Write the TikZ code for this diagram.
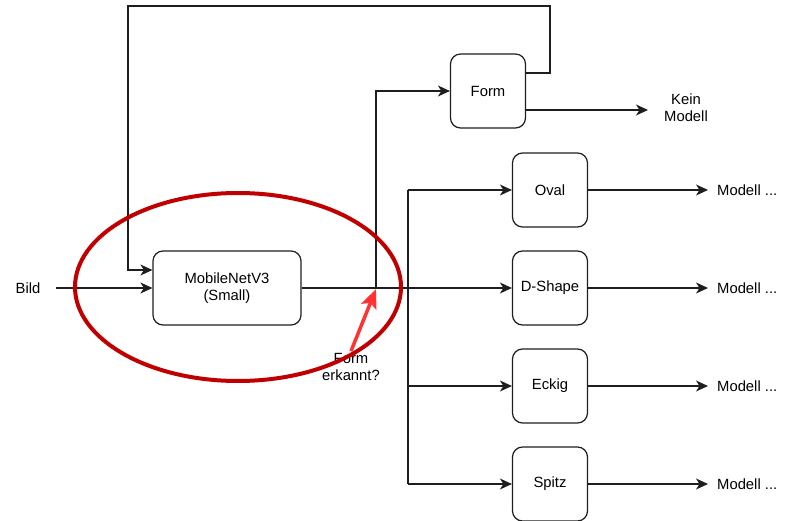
\documentclass[tikz,border=0pt]{standalone}
\usepackage{fontspec}
\setmainfont{Liberation Sans}
\usetikzlibrary{arrows.meta}
\definecolor{darkred}{RGB}{192, 0, 0}
\definecolor{hintred}{RGB}{255, 51, 51}
\definecolor{linegray}{RGB}{30, 30, 30}

\tikzset{
    box/.style  = {draw=linegray, line width=1.2pt, rounded corners=10pt, align=center,
                   minimum width=75pt, minimum height=74pt, inner sep=0pt},
    lbl/.style  = {inner sep=0pt, align=center},
    arr/.style  = {draw=linegray, line width=1.2pt, -{Stealth[length=12pt, width=11pt, inset=3.5pt]}},
    wire/.style = {draw=linegray, line width=1.2pt},
}

\begin{document}
\begin{tikzpicture}[x=1pt, y=-1pt, font=\fontsize{14.8}{17}\selectfont]
            \useasboundingbox (0, 0) rectangle (788, 521);
            % Input and network
            \node[lbl]                                  (bild)   at ( 28, 288) {Bild};
            \node[box, minimum width=148pt]             (mnet)   at (227, 288) {MobileNetV3\\(Small)};
            % Form decision
            \node[box]                                  (form)   at (488,  91) {Form};
            \node[lbl]                                  (kein)   at (686, 108) {Kein\\Modell};
            % Shape classes
            \node[box]                                  (oval)   at (550, 190) {Oval};
            \node[box]                                  (dshape) at (550, 288) {D-Shape};
            \node[box]                                  (eckig)  at (550, 386) {Eckig};
            \node[box]                                  (spitz)  at (550, 484) {Spitz};
            \node[lbl, anchor=west]                     (m1)     at (717, 190) {Modell ...};
            \node[lbl, anchor=west]                     (m2)     at (717, 288) {Modell ...};
            \node[lbl, anchor=west]                     (m3)     at (717, 386) {Modell ...};
            \node[lbl, anchor=west]                     (m4)     at (717, 484) {Modell ...};
            \node[lbl]                                  (frage)  at (351, 367) {Form\\erkannt?};
            % Junctions and loop corners
            \coordinate (jform)   at (376, 288);
            \coordinate (jbranch) at (408, 288);
            \coordinate (topr)    at (550,   6);
            \coordinate (topl)    at (128,   6);
            % Connectors
            \draw[arr]  ([xshift=15pt]bild.east) -- (mnet.west);
            \draw[arr]  (mnet.east) -- (dshape.west);
            \draw[arr]  (jform) |- (form.west);
            \draw[arr]  ([yshift=18pt]form.east) -| (topr) -- (topl) |- ([yshift=18pt]mnet.west);
            \draw[arr]  ([yshift=-19pt]form.east) -- ([xshift=-16pt]kein.west |- 0, 110);
            \draw[wire] (jbranch |- oval.west) -- (jbranch |- spitz.west);
            \draw[arr]  (jbranch |- oval.west)  -- (oval.west);
            \draw[arr]  (jbranch |- eckig.west) -- (eckig.west);
            \draw[arr]  (jbranch |- spitz.west) -- (spitz.west);
            \foreach \s/\m in {oval/m1, dshape/m2, eckig/m3, spitz/m4}
                \draw[arr] (\s.east) -- ([xshift=-9pt]\m.west);
            % Highlight
            \draw[darkred, line width=4pt] (238, 287) ellipse [x radius=163pt, y radius=94pt];
            \draw[hintred, line width=3.5pt, -{Stealth[length=19pt, width=16pt, inset=4pt]}]
                 ([yshift=2pt]frage.north) -- ([yshift=-1pt]jform);
\end{tikzpicture}
\end{document}
